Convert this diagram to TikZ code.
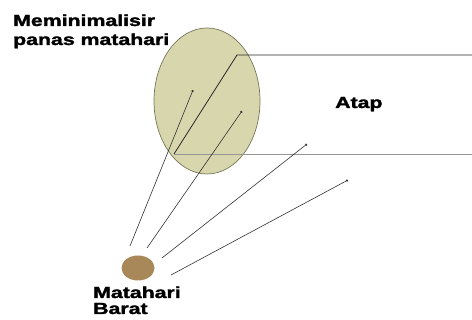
\documentclass[tikz,border=0pt]{standalone}
\usepackage{fontspec}
\setmainfont{Liberation Sans}
\newfontfamily\heavyfont[FakeBold=1.6]{Liberation Sans Bold}
\usetikzlibrary{shapes.geometric,arrows.meta}
\definecolor{shade}{RGB}{216,214,172}
\definecolor{shadeborder}{RGB}{120,118,90}
\definecolor{sun}{RGB}{168,136,88}
\definecolor{rooflow}{RGB}{150,150,150}
\tikzset{
  lbl/.style={inner sep=0pt, anchor=base west, font=\fontsize{16}{18}\selectfont\heavyfont},
  ray/.style={line width=0.6pt, color=black!80, -{Circle[length=2.2pt]}},
  roofline/.style={line width=0.8pt, color=black!85},
}
\newcommand{\wide}[1]{\scalebox{1.33}[1]{#1}}
\begin{document}
\begin{tikzpicture}[x=1pt,y=-1pt]
\useasboundingbox (0,0) rectangle (472,320);
% shade ellipse
\node[ellipse, draw=shadeborder, fill=shade, line width=0.7pt, inner sep=0pt,
      minimum width=106pt, minimum height=146pt] (shade) at (207,101) {};
% roof
\coordinate (rtl) at (237,55);
\coordinate (rtr) at (472,55);
\coordinate (rbl) at (174,154);
\coordinate (rbr) at (472,154);
\draw[roofline] (rtr) -- (rtl) -- (rbl);
\draw[line width=0.8pt, color=rooflow] (rbl) -- (rbr);
% sun
\node[ellipse, fill=sun, inner sep=0pt, minimum width=33pt, minimum height=25pt] (sunnode) at (138,268) {};
% ray start/end points
\coordinate (s1) at (130,246);
\coordinate (s2) at (147,248);
\coordinate (s3) at (162,258);
\coordinate (s4) at (171,275);
\coordinate (e1) at (193,90);
\coordinate (e2) at (242,111);
\coordinate (e3) at (307,144);
\coordinate (e4) at (348,180);
\draw[ray] (s1) -- (e1);
\draw[ray] (s2) -- (e2);
\draw[ray] (s3) -- (e3);
\draw[ray] (s4) -- (e4);
% labels
\node[lbl] (t1) at (13,26) {\wide{Meminimalisir}};
\node[lbl] (t2) at (13,45) {\wide{panas matahari}};
\node[lbl] (atap) at (335,108) {\wide{Atap}};
\node[lbl] (m1) at (93,298) {\wide{Matahari}};
\node[lbl] (m2) at (93,314) {\wide{Barat}};
\end{tikzpicture}
\end{document}
